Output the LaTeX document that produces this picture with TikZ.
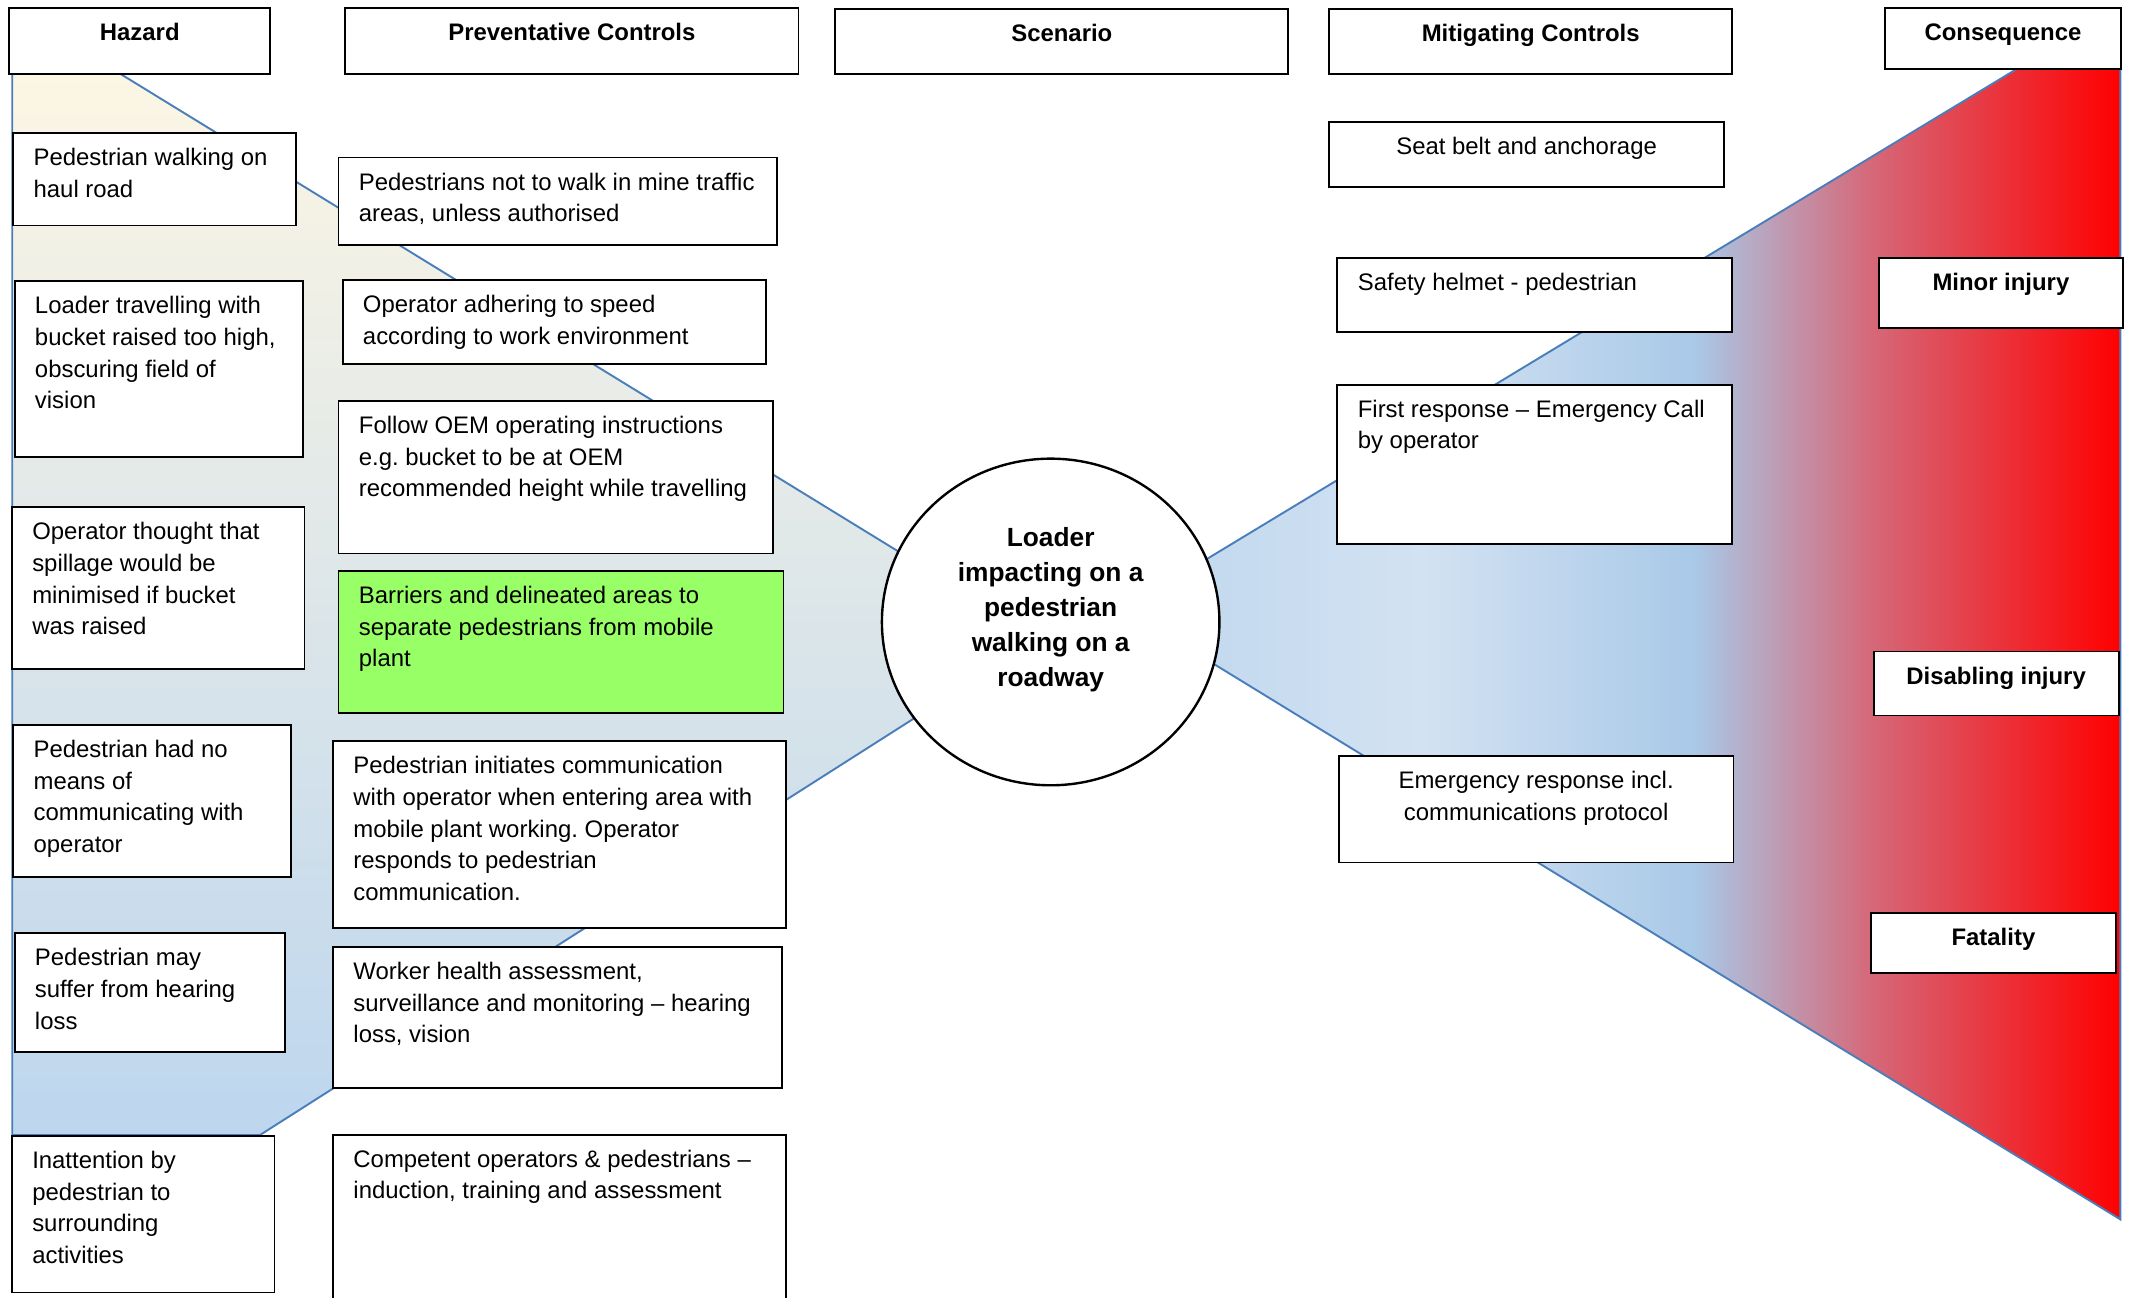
\documentclass[tikz,border=0pt]{standalone}
\usepackage{fontspec}
\setmainfont{Liberation Sans}
\usetikzlibrary{shapes.geometric}
\frenchspacing

\newlength{\pix}\setlength{\pix}{0.02cm}
\newcommand{\bodyfont}{\fontsize{10}{13.2}\selectfont}
\newcommand{\circfont}{\fontsize{11}{14.7}\selectfont\bfseries}

\definecolor{wedgeline}{RGB}{74,126,187}
\definecolor{creamtop}{RGB}{252,246,228}
\definecolor{paleblue}{RGB}{189,214,238}
\definecolor{lightblue}{RGB}{211,226,242}
\definecolor{midblue}{RGB}{169,201,232}
\definecolor{rosered}{RGB}{212,107,124}
\definecolor{barriergreen}{RGB}{153,255,102}

\tikzset{
  cell/.style 2 args={draw, line width=0.8pt, fill=white, anchor=north west, inner sep=0pt,
    execute at begin node={\begin{minipage}[c][#2\pix][t]{#1\pix}\raggedright\leftskip=15\pix\relax\rule{0pt}{24\pix}},
    execute at end node={\end{minipage}}},
  ccell/.style 2 args={draw, line width=0.8pt, fill=white, anchor=north west, inner sep=0pt,
    execute at begin node={\begin{minipage}[c][#2\pix][t]{#1\pix}\centering\rule{0pt}{24\pix}},
    execute at end node={\end{minipage}}},
  head/.style 2 args={ccell={#1}{#2}, font=\bodyfont\bfseries},
  wedge/.style={draw=wedgeline, line width=0.8pt},
}

\begin{document}
\begin{tikzpicture}[x=0.02cm, y=-0.02cm, every node/.style={font=\bodyfont}]
  \clip (0,0) rectangle (1568,953.6);

  % left wedge (causes side)
  \shade[top color=creamtop, bottom color=paleblue] (9,54) -- (88,54) -- (764,469) -- (191,834) -- (9,834) -- cycle;
  \draw[wedge] (9,54) -- (88,54) -- (764,469) -- (191,834) -- (9,834) -- cycle;

  % right wedge (consequence side)
  \begin{scope}
    \clip (1483,50) -- (1558,50) -- (1558,896) -- (826,447.5) -- cycle;
    \shade[left color=paleblue, right color=lightblue] (820,40) rectangle (1047,900);
    \shade[left color=lightblue, right color=midblue] (1046,40) rectangle (1246,900);
    \shade[left color=midblue, right color=rosered] (1245,40) rectangle (1371,900);
    \shade[left color=rosered, right color=red] (1370,40) rectangle (1559,900);
  \end{scope}
  \draw[wedge] (1483,50) -- (1558,50) -- (1558,896) -- (826,447.5) -- cycle;

  % column headings
  \node[head={192}{49}] (hzhead) at (6,5) {Hazard};
  \node[head={333}{49}] (pchead) at (253,5) {Preventative Controls};
  \node[head={333}{48}] (schead) at (613,6) {Scenario};
  \node[head={296}{48}] (mchead) at (976,6) {Mitigating Controls};
  \node[head={174}{45}] (cohead) at (1384,5) {Consequence};

  % hazards
  \node[cell={208}{68}] (hz1) at (9,97) {Pedestrian walking on\\haul road};
  \node[cell={212}{129}] (hz2) at (10,206) {Loader travelling with\\bucket raised too high,\\obscuring field of\\vision};
  \node[cell={215}{119}] (hz3) at (8,372) {Operator thought that\\spillage would be\\minimised if bucket\\was raised};
  \node[cell={204}{112}] (hz4) at (9,532) {Pedestrian had no\\means of\\communicating with\\operator};
  \node[cell={199}{87}] (hz5) at (10,685) {Pedestrian may\\suffer from hearing\\loss};
  \node[cell={193}{115}] (hz6) at (8,834) {Inattention by\\pedestrian to\\surrounding\\activities};

  % preventative controls
  \node[cell={322}{64}] (pc1) at (248,115) {Pedestrians not to walk in mine traffic\\areas, unless authorised};
  \node[cell={311}{62}] (pc2) at (251,205) {Operator adhering to speed\\according to work environment};
  \node[cell={319}{112}] (pc3) at (248,294) {Follow OEM operating instructions\\e.g. bucket to be at OEM\\recommended height while travelling};
  \node[cell={327}{104}, fill=barriergreen] (pc4) at (248,419) {Barriers and delineated areas to\\separate pedestrians from mobile\\plant};
  \node[cell={333}{137}] (pc5) at (244,544) {Pedestrian initiates communication\\with operator when entering area with\\mobile plant working. Operator\\responds to pedestrian\\communication.};
  \node[cell={330}{104}] (pc6) at (244,695) {Worker health assessment,\\surveillance and monitoring – hearing\\loss, vision};
  \node[cell={333}{140}] (pc7) at (244,833) {Competent operators \& pedestrians –\\induction, training and assessment};

  % scenario
  \node[draw, ellipse, line width=1pt, fill=white, inner sep=0pt,
        minimum width=248\pix, minimum height=240\pix] (scen) at (772,457) {};
  \node[font=\circfont, align=center] (scentext) at (772,448) {Loader\\impacting on a\\pedestrian\\walking on a\\roadway};

  % mitigating controls
  \node[ccell={290}{48}] (mc1) at (976,89) {Seat belt and anchorage};
  \node[cell={290}{54}] (mc2) at (982,189) {Safety helmet - pedestrian};
  \node[cell={290}{117}] (mc3) at (982,282) {First response – Emergency Call\\by operator};
  \node[ccell={290}{78}] (mc4) at (983,555) {Emergency response incl.\\communications protocol};

  % consequences
  \node[head={179}{51}] (co1) at (1380,189) {Minor injury};
  \node[head={180}{47}] (co2) at (1376,478) {Disabling injury};
  \node[head={180}{44}] (co3) at (1374,670) {Fatality};

\end{tikzpicture}
\end{document}
